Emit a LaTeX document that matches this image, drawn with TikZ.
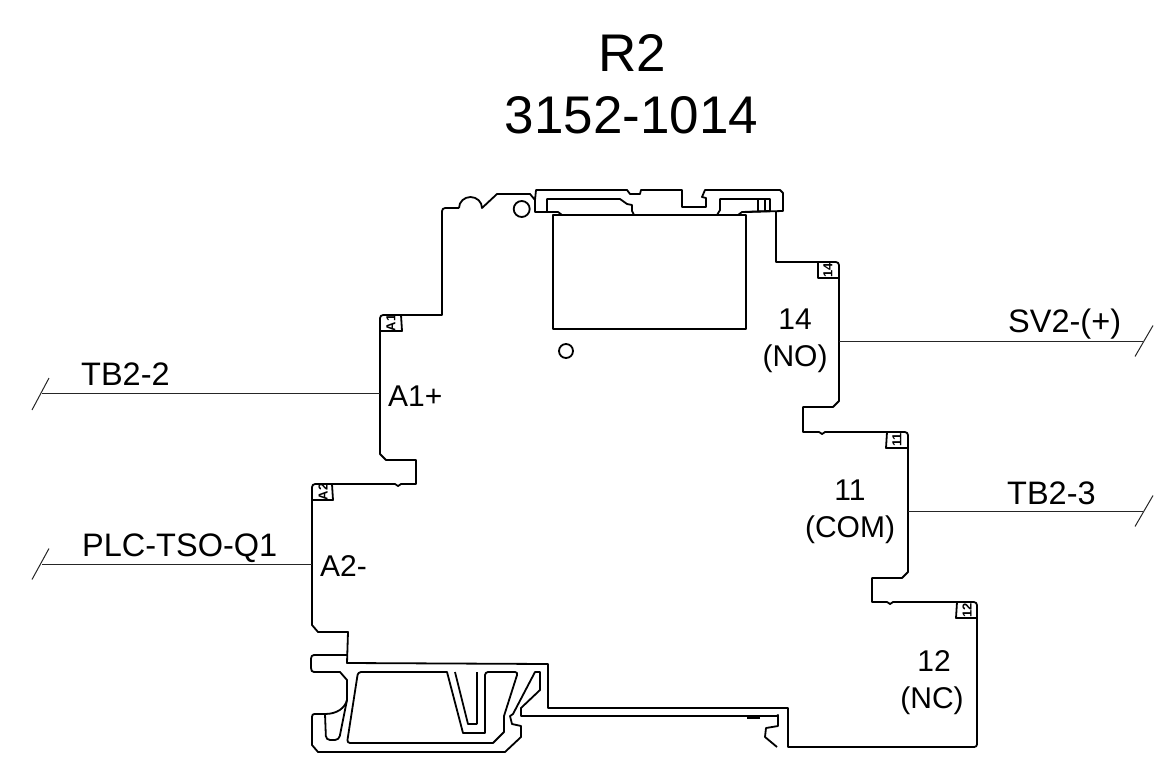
\documentclass[tikz,border=0pt]{standalone}
\usepackage{fontspec}
\setmainfont{Liberation Sans}

\tikzset{
  outline/.style={line width=1.8pt, line join=round},
  wire/.style={line width=1pt, draw=black!85},
  wirelabel/.style={anchor=base west, inner sep=0pt, font=\fontsize{32.5}{36}\selectfont},
  pinlabel/.style={anchor=base, inner sep=0pt, font=\fontsize{30}{36}\selectfont},
  titlelabel/.style={anchor=base, inner sep=0pt, font=\fontsize{53}{60}\selectfont},
  pinbox/.style={inner sep=0pt, rotate=90, font=\bfseries\fontsize{13}{13}\selectfont}
}

\begin{document}
\begin{tikzpicture}[x=1pt, y=-1pt]
  \useasboundingbox (0,0) rectangle (1175,762);
  %title
  \node[titlelabel] (title) at (632,72) {R2};
  \node[titlelabel] (partno) at (631.5,134) {3152-1014};
  %outer contour
  \draw[outline] (459,208) -- (449,208) .. controls (442,208) .. (442,215) -- (442,315)
        -- (387,315) .. controls (380,315) .. (380,322) -- (380,454) -- (386,460) -- (416,460)
        -- (416,484) -- (401,484) -- (398,486) -- (395,484) -- (319,484)
        .. controls (312,484) .. (312,491) -- (312,625) -- (318,632) -- (348,632)
        -- (347,663) -- (548,664) -- (548,708) -- (788,708) -- (788,747) -- (971,747)
        .. controls (977,747) .. (977,741) -- (977,609) .. controls (977,602) .. (970,602)
        -- (893,602) -- (890,604) -- (887,602) -- (872,602) -- (872,578) -- (902,578)
        -- (908,572) -- (908,439) .. controls (908,432) .. (901,432) -- (825,432)
        -- (822,434) -- (819,432) -- (803,432) -- (803,407) -- (833,407) -- (839,401)
        -- (839,269) .. controls (839,262) .. (832,262) -- (776,262) -- (776,212);
  %clip on top
  \draw[outline] (459,208) arc (180:360:11.5 and 11)
        -- (497,194) -- (530,194) -- (535,200) -- (535,212) -- (553,212)
        (746,212) -- (783,211) -- (783,193) -- (780,190) -- (705,190) -- (702,197)
        -- (706,198) -- (706,207) -- (682,207) -- (682,190) -- (641,190) -- (640,194)
        -- (630,194) -- (627,190) -- (536,190) -- (535,200);
  \draw[outline] (547,212) -- (547,199) -- (620,199) -- (627,204) -- (632,205)
        -- (632,211) -- (634,215)
        (717,215) -- (720,210) -- (720,199) -- (770,199) -- (770,211) -- (742,212)
        -- (738,215)
        (553,212) -- (558,212) -- (562,215)
        (758,199) -- (758,211)
        (765,199) -- (765,211);
  \draw[outline] (521.7,209) circle (8);
  \draw[outline] (566,351) circle (7);
  %window
  \draw[outline] (553,215) rectangle (746,329);
  %din rail foot
  \draw[outline] (347,655) -- (317,655) .. controls (311,655) .. (311,663)
        .. controls (311,672) .. (317,672) -- (340,672) -- (347,680) -- (347,700)
        .. controls (345,708) and (337,714) .. (325,714) -- (317,714)
        .. controls (312,714) .. (312,720) -- (312,745) -- (318,752) -- (505,752)
        -- (521,737) -- (521,726) -- (512,724) -- (510,716) -- (513,714) -- (535,672)
        -- (540,672) -- (540,690) -- (521,708) -- (521,716) -- (777,716) -- (778,715)
        -- (778,726) -- (766,728) -- (765,737) -- (777,747);
  \draw[outline, rounded corners=4pt] (325,714) -- (326,740) -- (339,740) -- (347,700);
  \draw[outline, rounded corners=3pt] (365,672) -- (358,672) -- (347,743) -- (400,743)
        [sharp corners] -- (493,743) -- (504,732) -- (504,716) [rounded corners=3pt]
        -- (518,672) -- (485,672) [sharp corners] -- (485,733) -- (463,733) -- (447,672)
        -- (365,672);
  \draw[outline] (455,672) -- (468,724) -- (477,724)
        (477,672) -- (477,724);
  \draw[line width=2pt] (747,718) -- (760,718);
  %terminal marks
  \draw[outline] (401,315) -- (402,331) -- (380,331)
        (332,484) -- (333,500) -- (312,500)
        (818,262) -- (818,278) -- (839,278)
        (887,432) -- (886,448) -- (908,448)
        (957,602) -- (956,618) -- (977,618);
  \node[pinbox] (markaone) at (391,323) {A1};
  \node[pinbox] (markatwo) at (323,492) {A2};
  \node[pinbox] (markno) at (828,270) {14};
  \node[pinbox] (markcom) at (897,440) {11};
  \node[pinbox] (marknc) at (967,610) {12};
  %wires
  \coordinate (endtbtwo) at (42,393.5);
  \coordinate (pinaone) at (380,393.5);
  \coordinate (endplc) at (42,564);
  \coordinate (pinatwo) at (312,564);
  \coordinate (endsv) at (1143,341);
  \coordinate (pinno) at (839,341);
  \coordinate (endtbthree) at (1143,511);
  \coordinate (pincom) at (908,511);
  \draw[wire] (endtbtwo) -- (pinaone);
  \draw[wire] (endplc) -- (pinatwo);
  \draw[wire] (pinno) -- (endsv);
  \draw[wire] (pincom) -- (endtbthree);
  %break ticks
  \draw[wire] (32,410) -- (49,378)
        (32,579.5) -- (49,548.5)
        (1135,356.5) -- (1153,325.5)
        (1135,526.5) -- (1153,495.5);
  %wire names
  \node[wirelabel] (tbtwo) at (81,385.5) {TB2-2};
  \node[wirelabel] (plc) at (82,556) {PLC-TSO-Q1};
  \node[wirelabel] (sv) at (1008,332) {SV2-(+)};
  \node[wirelabel] (tbthree) at (1007,504) {TB2-3};
  %pin names
  \node[pinlabel, anchor=base west] (aone) at (388,406) {A1+};
  \node[pinlabel, anchor=base west] (atwo) at (320,576) {A2-};
  \node[pinlabel] (nonum) at (795,329) {14};
  \node[pinlabel] (notxt) at (795,366) {(NO)};
  \node[pinlabel] (comnum) at (850,500) {11};
  \node[pinlabel] (comtxt) at (850,537) {(COM)};
  \node[pinlabel] (ncnum) at (934,671) {12};
  \node[pinlabel] (nctxt) at (932,708) {(NC)};
\end{tikzpicture}
\end{document}
